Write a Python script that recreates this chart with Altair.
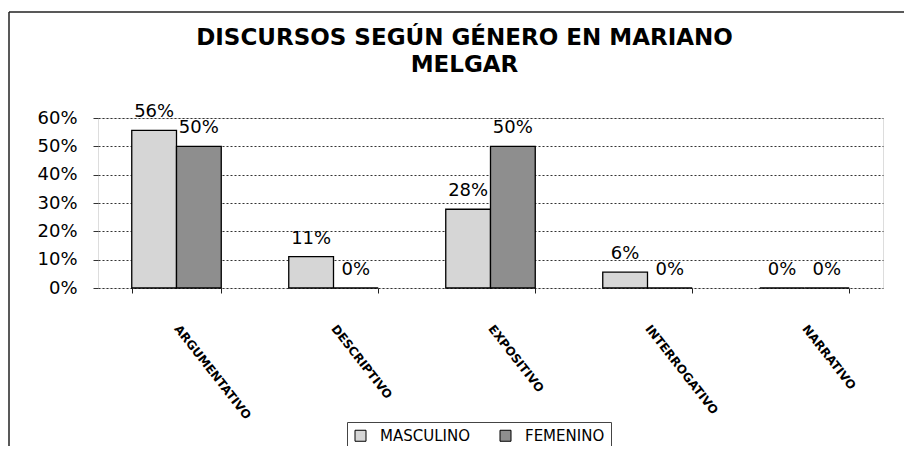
import altair as alt
import pandas as pd

categorias = ["ARGUMENTATIVO", "DESCRIPTIVO", "EXPOSITIVO", "INTERROGATIVO", "NARRATIVO"]
series = ["MASCULINO", "FEMENINO"]
masculino = [0.556, 0.111, 0.278, 0.056, 0.0]
femenino = [0.50, 0.0, 0.50, 0.0, 0.0]
y_ticks = [0.0, 0.1, 0.2, 0.3, 0.4, 0.5, 0.6]

rows = []
for c, m, f in zip(categorias, masculino, femenino):
    rows.append({"categoria": c, "serie": "MASCULINO", "valor": m})
    rows.append({"categoria": c, "serie": "FEMENINO", "valor": f})
df = pd.DataFrame(rows)

FONT = "DejaVu Sans"

y_enc = alt.Y(
    "valor:Q",
    scale=alt.Scale(domain=[0, 0.6], nice=False),
    axis=alt.Axis(
        title=None,
        format=".0%",
        values=y_ticks,
        tickCount=7,
        labelOverlap=False,
        labelFont=FONT,
        labelFontSize=18,
        labelColor="black",
        labelPadding=16,
        tickSize=5,
        tickColor="#333",
        domain=False,
        grid=True,
        gridColor="#333",
        gridDash=[2, 2],
        gridWidth=1,
    ),
)

base = alt.Chart(df).encode(
    x=alt.X(
        "categoria:N",
        sort=categorias,
        scale=alt.Scale(paddingInner=0.43, paddingOuter=0.215),
        axis=alt.Axis(
            title=None,
            labelAngle=52,
            labelAlign="left",
            labelBaseline="middle",
            labelPadding=33,
            labelFont=FONT,
            labelFontSize=12,
            labelFontWeight="bold",
            labelColor="black",
            labelOverlap=False,
            tickBand="extent",
            tickSize=5,
            tickColor="#222",
            domain=False,
            grid=False,
        ),
    ),
    xOffset=alt.XOffset("serie:N", sort=series, scale=alt.Scale(paddingInner=0, paddingOuter=0)),
    y=y_enc,
)

bars = base.mark_bar(stroke="black", strokeWidth=1.3).encode(
    color=alt.Color(
        "serie:N",
        sort=series,
        scale=alt.Scale(domain=series, range=["#d6d6d6", "#8e8e8e"]),
        legend=alt.Legend(
            title=None,
            orient="none",
            legendX=249,
            legendY=304,
            direction="horizontal",
            symbolType="square",
            symbolSize=121,
            symbolStrokeColor="black",
            symbolStrokeWidth=1,
            labelFont=FONT,
            labelFontSize=15,
            labelColor="black",
            labelOffset=12,
            columnPadding=28,
            padding=6,
            strokeColor="#444",
        ),
    ),
)

labels = base.mark_text(
    baseline="alphabetic", dy=-13, font=FONT, fontSize=18, color="black"
).encode(
    text=alt.Text("valor:Q", format=".0%"),
)

frame_df = pd.DataFrame({"a": [0]})
frame_left = alt.Chart(frame_df).mark_rule(color="#222", strokeWidth=1.5).encode(
    x=alt.value(-89), y=alt.value(-106), y2=alt.value(332)
)
frame_top = alt.Chart(frame_df).mark_rule(color="#222", strokeWidth=1.5).encode(
    x=alt.value(-89), x2=alt.value(806), y=alt.value(-106)
)

chart = (
    alt.layer(bars, labels, frame_left, frame_top)
    .properties(
        width=785,
        height=170,
        autosize=alt.AutoSizeParams(type="none"),
        padding={"left": 90, "top": 110, "right": 21, "bottom": 158},
        title=alt.TitleParams(
            text=["DISCURSOS SEGÚN GÉNERO EN MARIANO", "MELGAR"],
            font=FONT,
            fontSize=23,
            fontWeight="bold",
            color="black",
            anchor="middle",
            frame="group",
            dx=-26,
            offset=-66,
            lineHeight=27,
        ),
    )
    .configure_view(stroke="#333", strokeDash=[2, 2], strokeWidth=1)
    .configure(background="white")
)

chart.save("out.html", embed_options={"renderer": "svg", "actions": False})
